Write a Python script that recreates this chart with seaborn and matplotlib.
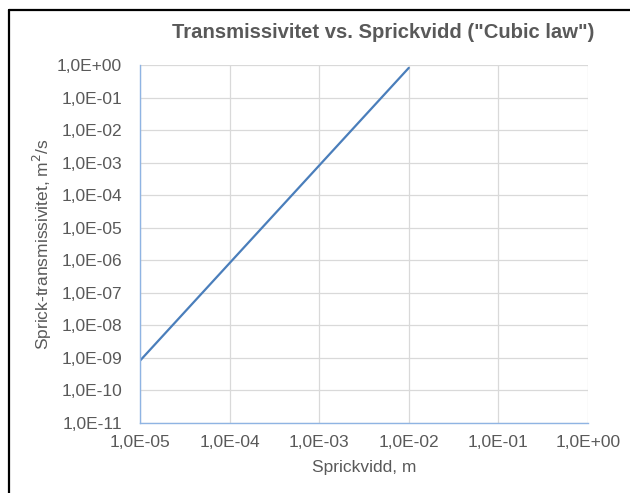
import numpy as np
import pandas as pd
import matplotlib
matplotlib.use("Agg")
import matplotlib.pyplot as plt
import seaborn as sns
from matplotlib.ticker import FuncFormatter, LogLocator
from matplotlib.lines import Line2D

# Sprickvidd (m) och transmissivitet (m2/s), cubic law
sprickvidd = [1e-5, 1e-4, 1e-3, 1e-2]
transmissivitet = [8.2e-10, 8.2e-7, 8.2e-4, 8.2e-1]

df = pd.DataFrame({'w': sprickvidd, 'T': transmissivitet})

sns.set_theme(style='white')
plt.rcParams['font.family'] = ['Liberation Sans', 'DejaVu Sans']

gray = '#595959'
fig = plt.figure(figsize=(6.3, 4.93), dpi=100)
ax = fig.add_axes([0.2222, 0.142, 0.7111, 0.726])

sns.lineplot(data=df, x='w', y='T', ax=ax, color='#4A7EBB', linewidth=1.6)
ax.set_xscale('log')
ax.set_yscale('log')
ax.set_xlim(1e-5, 1e0)
ax.set_ylim(1e-11, 1e0)

ax.xaxis.set_major_locator(LogLocator(base=10, numticks=20))
ax.yaxis.set_major_locator(LogLocator(base=10, numticks=20))
ax.xaxis.set_minor_locator(plt.NullLocator())
ax.yaxis.set_minor_locator(plt.NullLocator())
fmt = FuncFormatter(lambda v, p: f"{v:.1E}".replace('.', ','))
ax.xaxis.set_major_formatter(fmt)
ax.yaxis.set_major_formatter(fmt)

ax.grid(True, color='#D9D9D9', linewidth=0.9)
ax.set_axisbelow(True)
for s in ['top', 'right']:
    ax.spines[s].set_visible(False)
for s in ['left', 'bottom']:
    ax.spines[s].set_color('#8FB4E3')
    ax.spines[s].set_linewidth(1.0)

ax.tick_params(axis='x', length=0, labelsize=12.5, labelcolor=gray, pad=9)
ax.tick_params(axis='y', length=0, labelsize=12.5, labelcolor=gray, pad=13)
ax.set_xlabel('Sprickvidd, m', fontsize=12.5, color=gray, labelpad=7)
ax.set_ylabel('Sprick-transmissivitet, m$^2$/s', fontsize=12.5, color=gray, labelpad=2)
fig.suptitle('Transmissivitet vs. Sprickvidd ("Cubic law")', x=0.609, y=0.953,
             fontsize=14.6, fontweight='bold', color=gray)

# svart ram uppe och till vänster
fig.add_artist(Line2D([0.0143, 1.0], [0.980, 0.980], color='black', linewidth=1.6))
fig.add_artist(Line2D([0.0143, 0.0143], [0.0, 0.980], color='black', linewidth=1.6))

fig.savefig('out.png', dpi=100)
